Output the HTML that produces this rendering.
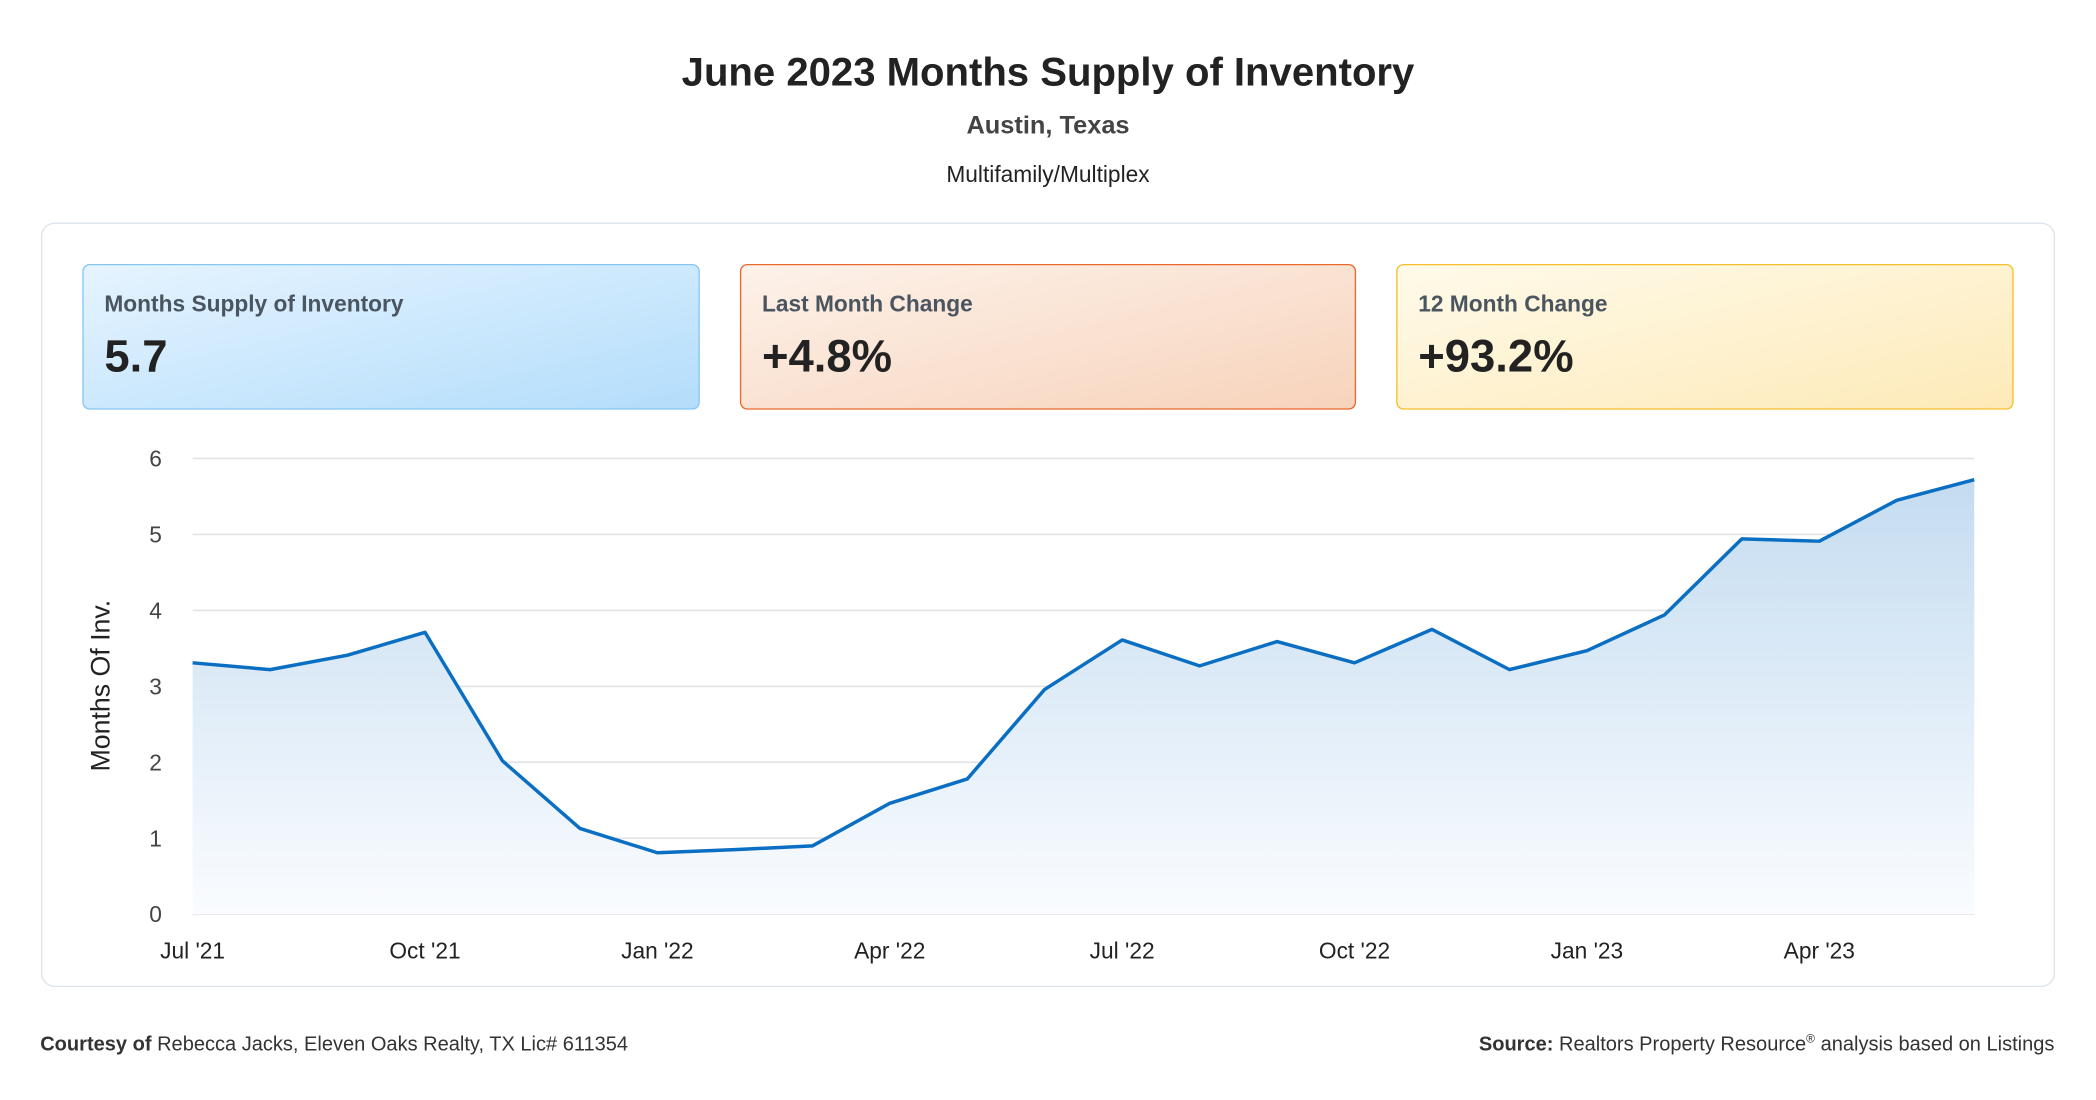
<!DOCTYPE html>
<html><head><meta charset="utf-8"><style>
html,body{margin:0;padding:0;background:#fff;width:2096px;height:1100px;overflow:hidden}
svg{display:block}
text{font-family:"Liberation Sans",Arial,sans-serif}
</style></head><body>
<svg width="2096" height="1100" viewBox="0 0 1568 823">
<defs>
<linearGradient id="g1" x1="0" y1="0" x2="1" y2="1"><stop offset="0" stop-color="#e6f4ff"/><stop offset="1" stop-color="#b3ddfb"/></linearGradient>
<linearGradient id="g2" x1="0" y1="0" x2="1" y2="1"><stop offset="0" stop-color="#fdf2ea"/><stop offset="1" stop-color="#f7d3bb"/></linearGradient>
<linearGradient id="g3" x1="0" y1="0" x2="1" y2="1"><stop offset="0" stop-color="#fffaea"/><stop offset="1" stop-color="#fdeab8"/></linearGradient>
<linearGradient id="ga" x1="0" y1="0" x2="0" y2="1"><stop offset="0" stop-color="#c4dcf0"/><stop offset="1" stop-color="#fafcff"/></linearGradient>
</defs>
<text x="784" y="64" text-anchor="middle" font-size="30" font-weight="bold" fill="#222">June 2023 Months Supply of Inventory</text>
<text x="784" y="100" text-anchor="middle" font-size="19" font-weight="bold" fill="#444">Austin, Texas</text>
<text x="784" y="136" text-anchor="middle" font-size="17" fill="#222">Multifamily/Multiplex</text>
<rect x="31" y="167" width="1506" height="571" rx="10" fill="#fff" stroke="#dde4ec"/>
<g>
<rect x="62" y="198" width="461" height="108" rx="5" fill="url(#g1)" stroke="#86c6f3"/>
<text x="78" y="233" font-size="17" font-weight="bold" fill="#4a5560">Months Supply of Inventory</text>
<text x="78" y="278" font-size="34" font-weight="bold" fill="#222">5.7</text></g>
<g>
<rect x="554" y="198" width="460" height="108" rx="5" fill="url(#g2)" stroke="#e9692c"/>
<text x="570" y="233" font-size="17" font-weight="bold" fill="#4a5560">Last Month Change</text>
<text x="570" y="278" font-size="34" font-weight="bold" fill="#222">+4.8%</text></g>
<g>
<rect x="1045" y="198" width="461" height="108" rx="5" fill="url(#g3)" stroke="#f5bf2a"/>
<text x="1061" y="233" font-size="17" font-weight="bold" fill="#4a5560">12 Month Change</text>
<text x="1061" y="278" font-size="34" font-weight="bold" fill="#222">+93.2%</text></g>
<g id="grid"></g>
<path id="area" fill="url(#ga)"/>
<path id="line" fill="none" stroke="#0a6fc2" stroke-width="2.6" stroke-linejoin="round"/>
<g id="xt"></g>
<text transform="translate(82,513) rotate(-90)" text-anchor="middle" font-size="20" fill="#222">Months Of Inv.</text>
<text x="30" y="786" font-size="15" fill="#333"><tspan font-weight="bold">Courtesy of</tspan> Rebecca Jacks, Eleven Oaks Realty, TX Lic# 611354</text>
<text x="1537" y="786" text-anchor="end" font-size="15" fill="#333"><tspan font-weight="bold">Source:</tspan> Realtors Property Resource<tspan font-size="9" dy="-6">®</tspan><tspan dy="6"> analysis based on Listings</tspan></text>
</svg>
<script>
const months = ["Jul '21","Aug '21","Sep '21","Oct '21","Nov '21","Dec '21","Jan '22","Feb '22","Mar '22","Apr '22","May '22","Jun '22","Jul '22","Aug '22","Sep '22","Oct '22","Nov '22","Dec '22","Jan '23","Feb '23","Mar '23","Apr '23","May '23","Jun '23"];
const values = [3.31,3.22,3.41,3.71,2.02,1.13,0.81,0.85,0.90,1.46,1.78,2.96,3.61,3.27,3.59,3.31,3.75,3.22,3.47,3.94,4.94,4.91,5.45,5.72];
const yTicks = [0,1,2,3,4,5,6];
const xTickLabels = ["Jul '21","Oct '21","Jan '22","Apr '22","Jul '22","Oct '22","Jan '23","Apr '23"];
const NS="http://www.w3.org/2000/svg";
const X0=144,X1=1477,Y0=684,Y1=343,YMAX=6;
const xs=i=>X0+(X1-X0)*i/(months.length-1);
const ys=v=>Y0-(Y0-Y1)*v/YMAX;
const grid=document.getElementById('grid');
yTicks.forEach(t=>{
 const l=document.createElementNS(NS,'line');
 l.setAttribute('x1',X0);l.setAttribute('x2',X1);l.setAttribute('y1',ys(t));l.setAttribute('y2',ys(t));
 l.setAttribute('stroke','#e2e4e7');l.setAttribute('stroke-width','1.3');
 
 
 grid.appendChild(l);
 const tx=document.createElementNS(NS,'text');
 tx.setAttribute('x',121);tx.setAttribute('y',ys(t)+6);tx.setAttribute('text-anchor','end');
 tx.setAttribute('font-size','17');tx.setAttribute('fill','#444');tx.textContent=t;
 
 
 grid.appendChild(tx);
});
let d='';values.forEach((v,i)=>{d+=(i?'L':'M')+xs(i).toFixed(1)+','+ys(v).toFixed(1);});
document.getElementById('line').setAttribute('d',d);
document.getElementById('area').setAttribute('d',d+'L'+xs(values.length-1)+','+Y0+'L'+X0+','+Y0+'Z');
const xt=document.getElementById('xt');
xTickLabels.forEach(lab=>{
 const i=months.indexOf(lab);
 const tx=document.createElementNS(NS,'text');
 tx.setAttribute('x',xs(i));tx.setAttribute('y',717);tx.setAttribute('text-anchor','middle');
 tx.setAttribute('font-size','17');tx.setAttribute('fill','#222');tx.textContent=lab;
 
 
 xt.appendChild(tx);
});
</script>
</body></html>
